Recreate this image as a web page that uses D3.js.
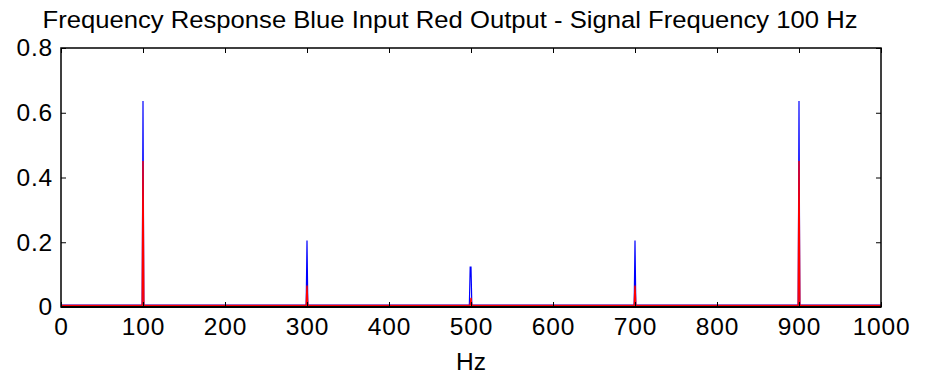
<!DOCTYPE html>
<html>
<head>
<meta charset="utf-8">
<script src="https://cdn.jsdelivr.net/npm/d3@7"></script>
<style>
  body { margin: 0; background: #fff; }
  svg text { font-family: "Liberation Sans", Arial, sans-serif; fill: #000; }
</style>
</head>
<body>
<svg id="chart" width="930" height="375"></svg>
<script>
// spectrum points (Hz, magnitude) - input (blue) and output (red)
const inputFreq  = [0, 99, 100, 101, 299, 300, 301, 498, 499, 500, 501, 699, 700, 701, 899, 900, 901, 1000];
const inputMag   = [0.006, 0.006, 0.636, 0.006, 0.006, 0.205, 0.006, 0.006, 0.123, 0.123, 0.006, 0.006, 0.205, 0.006, 0.006, 0.636, 0.006, 0.006];
const outputFreq = [0, 99, 100, 101, 299, 300, 301, 499, 500, 501, 699, 700, 701, 899, 900, 901, 1000];
const outputMag  = [0.005, 0.005, 0.451, 0.005, 0.005, 0.066, 0.005, 0.005, 0.028, 0.005, 0.005, 0.066, 0.005, 0.005, 0.451, 0.005, 0.005];

const xTicks = [0, 100, 200, 300, 400, 500, 600, 700, 800, 900, 1000];
const yTicks = [0, 0.2, 0.4, 0.6, 0.8];

const titleText = 'Frequency Response Blue Input Red Output - Signal Frequency 100 Hz';
const xLabel = 'Hz';

const svg = d3.select('#chart');
const mLeft = 61, mRight = 881, mTop = 48, mBottom = 307;

const x = d3.scaleLinear().domain([0, 1000]).range([mLeft, mRight]);
const y = d3.scaleLinear().domain([0, 0.8]).range([mBottom, mTop]);

const line = d3.line().x(d => x(d[0])).y(d => y(d[1]));

svg.append('path')
    .datum(d3.zip(inputFreq, inputMag))
    .attr('d', line)
    .attr('fill', 'none')
    .attr('stroke', '#0000ff')
    .attr('stroke-width', 1.2);

svg.append('path')
    .datum(d3.zip(outputFreq, outputMag))
    .attr('d', line)
    .attr('fill', 'none')
    .attr('stroke', '#ff0000')
    .attr('stroke-width', 1.4);

// axes, ticks inward like matlab
const fmtY = d => d === 0 ? '0' : d3.format('.1f')(d);
const fs = 24.5;

const gx = svg.append('g').attr('transform', `translate(0,${mBottom})`)
    .call(d3.axisBottom(x).tickValues(xTicks).tickSize(-5).tickPadding(11).tickFormat(d3.format('d')));
const gxTop = svg.append('g').attr('transform', `translate(0,${mTop})`)
    .call(d3.axisTop(x).tickValues(xTicks).tickSize(-5).tickFormat(''));
const gy = svg.append('g').attr('transform', `translate(${mLeft},0)`)
    .call(d3.axisLeft(y).tickValues(yTicks).tickSize(-5).tickPadding(8).tickFormat(fmtY));
const gyRight = svg.append('g').attr('transform', `translate(${mRight},0)`)
    .call(d3.axisRight(y).tickValues(yTicks).tickSize(-5).tickFormat(''));

[gx, gxTop, gy, gyRight].forEach(g => {
    g.select('.domain').remove();
    g.selectAll('.tick line').attr('stroke', '#000');
    g.selectAll('text').attr('font-size', fs).attr('letter-spacing', 0.8)
        .attr('font-family', '"Liberation Sans", Arial, sans-serif');
});

svg.append('rect')
    .attr('x', mLeft).attr('y', mTop)
    .attr('width', mRight - mLeft).attr('height', mBottom - mTop)
    .attr('fill', 'none')
    .attr('stroke', '#000')
    .attr('stroke-width', 1.5);

// thicker baseline like the reference
svg.append('line')
    .attr('x1', mLeft).attr('x2', mRight)
    .attr('y1', mBottom).attr('y2', mBottom)
    .attr('stroke', '#000').attr('stroke-width', 2);

svg.append('text')
    .attr('x', 450)
    .attr('y', 28)
    .attr('text-anchor', 'middle')
    .attr('font-size', 24.5)
    .attr('textLength', 815)
    .attr('lengthAdjust', 'spacingAndGlyphs')
    .text(titleText);

svg.append('text')
    .attr('x', (mLeft + mRight) / 2)
    .attr('y', 370)
    .attr('text-anchor', 'middle')
    .attr('font-size', fs)
    .text(xLabel);
</script>
</body>
</html>
